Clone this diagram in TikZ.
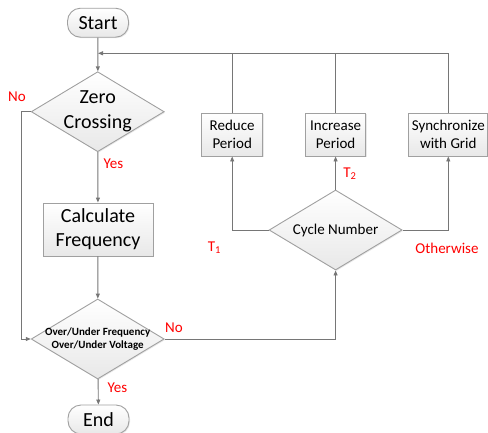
\documentclass[tikz,border=0pt]{standalone}
\usepackage{fontspec}
\setmainfont{Carlito}
\usetikzlibrary{shapes.geometric,arrows.meta,shadows}
\definecolor{linegray}{HTML}{767676}
\definecolor{bordergray}{HTML}{A0A0A0}
\definecolor{lblred}{HTML}{FF0000}
\begin{document}
\begin{tikzpicture}[x=1pt,y=-1pt,
  shapebase/.style={draw=bordergray, line width=0.9pt, top color=white, bottom color=black!9,
     drop shadow={opacity=0.18, shadow xshift=1pt, shadow yshift=-1pt}},
  terminal/.style={shapebase, rectangle, rounded corners=13pt, minimum width=61pt, minimum height=29pt, inner sep=0pt, font=\fontsize{20}{22}\selectfont},
  bigbox/.style={shapebase, rectangle, minimum width=110pt, minimum height=53pt, inner sep=0pt, align=center, font=\fontsize{20}{24}\selectfont},
  smallbox/.style={shapebase, rectangle, minimum height=43pt, inner sep=0pt, align=center, font=\fontsize{15}{18}\selectfont},
  decision/.style={shapebase, diamond, minimum width=133pt, minimum height=80pt, inner sep=0pt},
  flow/.style={draw=linegray, line width=0.9pt, -{Triangle[length=5pt,width=4pt]}},
  plainline/.style={draw=linegray, line width=0.9pt},
  lbl/.style={text=lblred, font=\fontsize{15}{18}\selectfont, inner sep=0pt}
]
\useasboundingbox (0,0) rectangle (488,432);

% nodes
\node[terminal] (start) at (98,22.7) {Start};
\node[decision, label={[align=center,font=\fontsize{20}{25}\selectfont]center:Zero\\Crossing}] (zc) at (97.7,111.7) {};
\node[bigbox] (calc) at (98,229.5) {Calculate\\Frequency};
\node[decision, label={[align=center,font=\bfseries\fontsize{11}{13.5}\selectfont]center:Over/Under Frequency\\Over/Under Voltage}] (ou) at (97.7,339) {};
\node[terminal] (end) at (98.5,419.5) {End};

\node[decision, label={[font=\fontsize{15}{18}\selectfont]center:Cycle Number}] (cyc) at (335.6,230) {};
\node[smallbox, minimum width=61pt] (red) at (232.2,134.5) {Reduce\\Period};
\node[smallbox, minimum width=60pt] (inc) at (335.6,134.5) {Increase\\Period};
\node[smallbox, minimum width=79pt] (syn) at (448.3,134.5) {Synchronize\\with Grid};

\coordinate (join) at (98,53.3);
\coordinate (lft) at (21.7,0);

% main flow
\draw[flow] (start) -- (zc);
\draw[flow] (zc) -- (calc);
\draw[flow] (calc) -- (ou);
\draw[flow] (ou) -- (end);
\draw[flow] (zc.west) -| (lft |- ou.west) -- (ou.west);
\draw[flow] (ou.east) -| (cyc.south);

% cycle number branches
\draw[flow] (cyc.west) -| (red.south);
\draw[flow] (cyc.north) -- (inc.south);
\draw[flow] (cyc.east) -| (syn.south);

% feedback
\draw[flow] (syn.north) |- (join);
\draw[plainline] (red.north) -- (red.north |- join);
\draw[plainline] (inc.north) -- (inc.north |- join);

% labels
\node[lbl] (lno1) at (17,97) {No};
\node[lbl] (lyes1) at (113.5,164) {Yes};
\node[lbl] (lno2) at (174,328) {No};
\node[lbl] (lyes2) at (117.5,388) {Yes};
\node[lbl] (lt1) at (214.5,248) {T\textsubscript{1}};
\node[lbl] (lt2) at (350,174) {T\textsubscript{2}};
\node[lbl] (loth) at (447,248) {Otherwise};
\end{tikzpicture}
\end{document}
